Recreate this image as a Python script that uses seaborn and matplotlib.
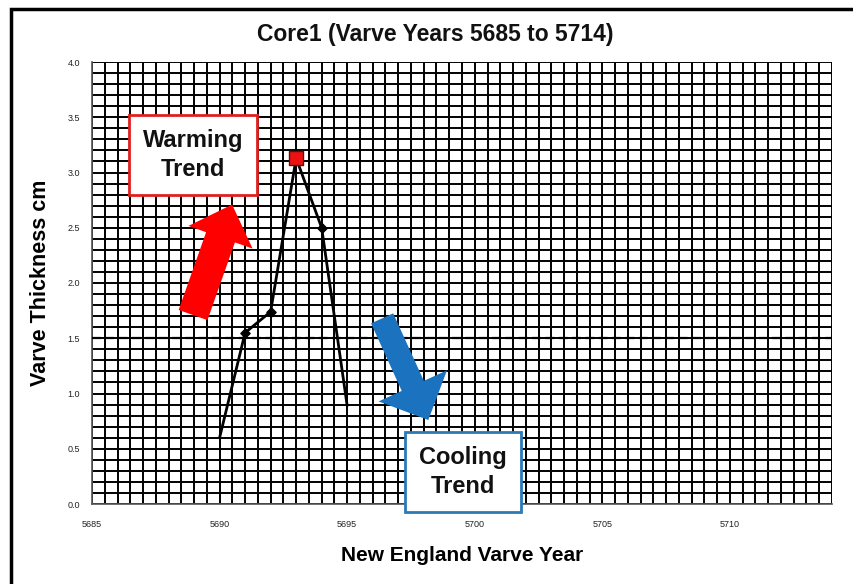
import numpy as np
import pandas as pd
import matplotlib
matplotlib.use("Agg")
import matplotlib.pyplot as plt
import seaborn as sns
from matplotlib.patches import Rectangle

# data
years = [5690, 5691, 5692, 5693, 5694, 5695]
thickness = [0.60, 1.55, 1.74, 3.13, 2.50, 0.89]
marker_years = [5691, 5692, 5694]
peak_year = 5693
mean_line = 1.5
x_range = (5685, 5714)
y_range = (0.0, 4.0)
x_labels = [5685, 5690, 5695, 5700, 5705, 5710]

df = pd.DataFrame({'year': years, 'thickness': thickness})

sns.set_style('white')
plt.rcParams['font.family'] = ['Liberation Sans', 'DejaVu Sans']
plt.rcParams['text.color'] = 'black'
plt.rcParams['axes.labelcolor'] = 'black'

fig = plt.figure(figsize=(8.54, 5.84), dpi=100)
ax = fig.add_axes([92 / 854, 1 - 504 / 584, (832 - 92) / 854, (504 - 62) / 584])

# grid
ax.set_xlim(*x_range)
ax.set_ylim(*y_range)
ax.set_xticks(np.arange(x_range[0], x_range[1] + 1, 1))
ax.set_xticklabels([str(v) if v in x_labels else '' for v in range(x_range[0], x_range[1] + 1)])
ax.set_xticks(np.arange(x_range[0], x_range[1] + 0.01, 0.5), minor=True)
ax.set_yticks(np.arange(0, 4.01, 0.5))
ax.set_yticklabels([f'{v:.1f}' for v in np.arange(0, 4.01, 0.5)])
ax.set_yticks(np.arange(0, 4.01, 0.1), minor=True)
ax.grid(which='both', color='black', linewidth=1.4)
ax.set_axisbelow(True)
ax.tick_params(axis='both', which='major', length=5, width=1.2, color='#333333',
               labelsize=6.5, labelcolor='#222222', direction='out')
ax.tick_params(axis='x', which='major', length=5, direction='inout', pad=9)
ax.tick_params(which='minor', length=0)
for s in ['top', 'right']:
    ax.spines[s].set_visible(False)
for s in ['left', 'bottom']:
    ax.spines[s].set_color('#555555')
    ax.spines[s].set_linewidth(1.2)

# dashed reference line
ax.axhline(mean_line, color='black', linestyle=(0, (4, 2)), linewidth=1.6, zorder=3)

# series
sns.lineplot(data=df, x='year', y='thickness', ax=ax, color='black', linewidth=2, zorder=4)
mk = df[df['year'].isin(marker_years)]
ax.scatter(mk['year'], mk['thickness'], marker='D', s=22, color='black', zorder=5)
pk = df[df['year'] == peak_year]
ax.scatter(pk['year'], pk['thickness'], marker='s', s=110, color='#ee1111',
           edgecolor='#551111', linewidth=1, zorder=6)

# arrows
ax.annotate('', xy=(5690.49, 2.71), xytext=(5688.96, 1.71),
            arrowprops=dict(arrowstyle='simple,head_length=2.5,head_width=4.9,tail_width=2.2',
                            mutation_scale=10, color='#ff0000', lw=0, shrinkA=0, shrinkB=0),
            zorder=6)
ax.annotate('', xy=(5698.18, 0.76), xytext=(5696.37, 1.68),
            arrowprops=dict(arrowstyle='simple,head_length=2.7,head_width=5.4,tail_width=1.75',
                            mutation_scale=10, color='#1b72be', lw=0, shrinkA=0, shrinkB=0),
            zorder=6)

# text boxes
box_pad = 'square,pad=0.6'
ax.text(5688.96, 3.16, 'Warming\nTrend', ha='center', va='center', fontsize=17,
        fontweight='bold', color='#111111', linespacing=1.3, zorder=7,
        bbox=dict(boxstyle=box_pad, facecolor='white', edgecolor='#e02020', linewidth=2))
ax.text(5699.55, 0.29, 'Cooling\nTrend', ha='center', va='center', fontsize=17,
        fontweight='bold', color='#111111', linespacing=1.3, zorder=7, clip_on=False,
        bbox=dict(boxstyle=box_pad, facecolor='white', edgecolor='#2a7ab8', linewidth=2))

ax.set_xlabel('New England Varve Year', fontsize=15, fontweight='bold',
              family=['Liberation Sans Narrow', 'Liberation Sans'], labelpad=12)
ax.set_ylabel('Varve Thickness cm', fontsize=15.5, fontweight='bold', labelpad=12)
fig.text(435 / 854, 1 - 35 / 584, 'Core1 (Varve Years 5685 to 5714)', ha='center', va='center',
         fontsize=16.5, fontweight='bold', color='#111111')

# outer frame
fig.patches.append(Rectangle((11 / 854, -0.02), 1.1, 1 - 9 / 584 + 0.02, transform=fig.transFigure,
                             fill=False, edgecolor='black', linewidth=2.5))

fig.savefig('out.png', dpi=100)
